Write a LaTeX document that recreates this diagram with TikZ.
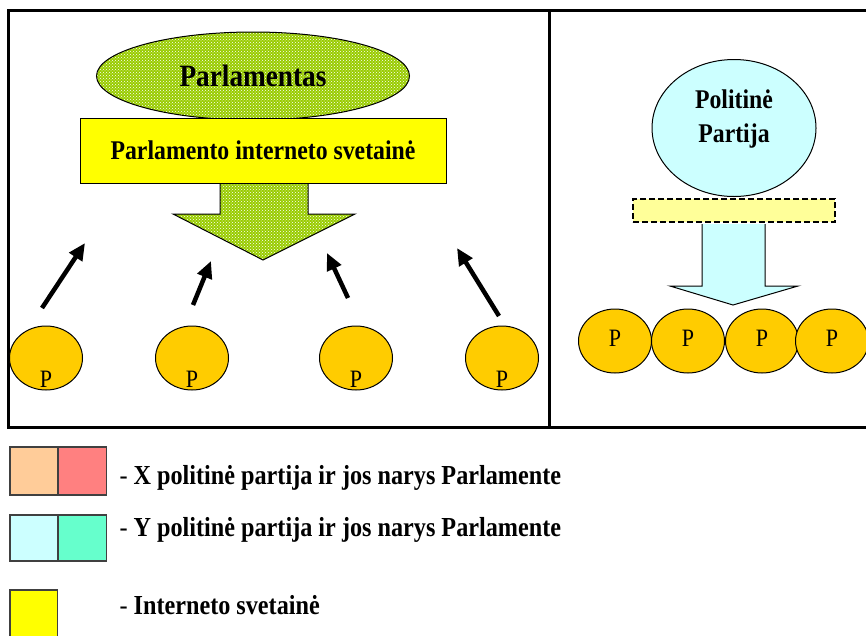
\documentclass[tikz,border=0pt]{standalone}
\usepackage{fontspec}
\setmainfont{Liberation Serif}[FakeStretch=0.88]
\usetikzlibrary{shapes.geometric,patterns,arrows.meta}
\definecolor{parlGreen}{HTML}{99CC00}
\definecolor{webYellow}{HTML}{FFFF00}
\definecolor{memberOrange}{HTML}{FFCC00}
\definecolor{partyBlue}{HTML}{CCFFFF}
\definecolor{siteYellow}{HTML}{FFFF99}
\definecolor{xParty}{HTML}{FFCC99}
\definecolor{xMember}{HTML}{FF8080}
\definecolor{yMember}{HTML}{66FFCC}

\begin{document}
\begin{tikzpicture}
[x=1pt,y=-1pt,
  frameLine/.style={line width=3pt},
  greenDots/.style={draw,line width=1pt,preaction={fill=parlGreen},
    pattern=crosshatch dots,pattern color=white},
  memberCircle/.style={ellipse,draw,line width=1pt,fill=memberOrange,
    minimum width=73pt,minimum height=64pt,inner sep=0pt},
  memberText/.style={inner sep=0pt,font=\fontsize{25}{25}\selectfont},
  pushArrow/.style={line width=4.5pt,-{Triangle[length=17pt,width=15pt]}},
  legendBox/.style={draw=black!75,line width=1.2pt,minimum height=48pt,
    minimum width=47.5pt,inner sep=0pt},
  legendText/.style={anchor=west,font=\fontsize{27.5}{30}\selectfont\bfseries}]
\useasboundingbox (0,0) rectangle (866,635);
%% frames
\draw[frameLine] (866,10) -- (8,10) -- (8,427) -- (866,427);
\draw[frameLine] (549,10) -- (549,427);
%% parliament and its site
\node[ellipse,greenDots,minimum width=313pt,minimum height=88pt,
  font=\fontsize{31}{31}\selectfont\bfseries] (parl) at (253,76) {Parlamentas};
\node[draw,line width=1pt,fill=webYellow,minimum width=366pt,minimum height=65pt,
  font=\fontsize{27}{27}\selectfont\bfseries] (web) at (263,150.5)
  {Parlamento interneto svetainė};
\draw[greenDots] ([xshift=-43pt,yshift=-0.5pt]web.south) |- (173,214)
  -- (263,260) -- (355,214) -| ([xshift=45pt,yshift=-0.5pt]web.south);
%% members and their arrows
\foreach \i/\tx/\ty/\hx/\hy in {
  1/42/308/85/243, 2/193/305/211/261, 3/348/298/327/253, 4/499/316/457/248}
{
  \coordinate (tail\i) at (\tx,\ty);
  \coordinate (head\i) at (\hx,\hy);
  \draw[pushArrow] (tail\i) -- (head\i);
}
\foreach \nodename/\x in {mA/46, mB/192, mC/356, mD/502}
{
  \node[memberCircle] (\nodename) at (\x,358) {};
  \node[memberText] (\nodename-p) at ([yshift=-21pt]\nodename.center) {P};
}
%% party side
\node[ellipse,draw,line width=1pt,fill=partyBlue,minimum width=164pt,
  minimum height=137pt] (party) at (734,128) {};
\node[align=center,font=\fontsize{27}{34}\selectfont\bfseries] (partyText)
  at ([yshift=9pt]party.center) {Politinė\\Partija};
\node[draw,dash pattern=on 6pt off 3pt,line width=2pt,fill=siteYellow,
  minimum width=202pt,minimum height=23pt,inner sep=0pt] (partySite) at (734,210.5) {};
\draw[line width=1pt,fill=partyBlue] ([xshift=-32pt,yshift=-1pt]partySite.south)
  |- (670,286) -- (733,305) -- (798,286) -| ([xshift=31pt,yshift=-1pt]partySite.south);
\foreach \nodename/\x in {pA/615, pB/688, pC/762, pD/832}
{
  \node[memberCircle] (\nodename) at (\x,341) {};
  \node[memberText] (\nodename-p) at ([yshift=3pt]\nodename.center) {P};
}
%% legend
\node[legendBox,fill=xParty] (xPartyBox) at (33.75,471) {};
\node[legendBox,fill=xMember,anchor=west] (xMemberBox) at (xPartyBox.east) {};
\node[legendBox,fill=partyBlue,minimum height=46pt] (yPartyBox) at (33.75,538) {};
\node[legendBox,fill=yMember,minimum height=46pt,anchor=west] (yMemberBox)
  at (yPartyBox.east) {};
\node[legendBox,fill=webYellow,minimum height=50pt] (siteBox) at (33.75,615) {};
\node[legendText] (xText) at (116,478) {{\mdseries -} X politinė partija ir jos narys Parlamente};
\node[legendText] (yText) at (116,530) {{\mdseries -} Y politinė partija ir jos narys Parlamente};
\node[legendText] (siteText) at (116,605) {{\mdseries -} Interneto svetainė};
\end{tikzpicture}
\end{document}
